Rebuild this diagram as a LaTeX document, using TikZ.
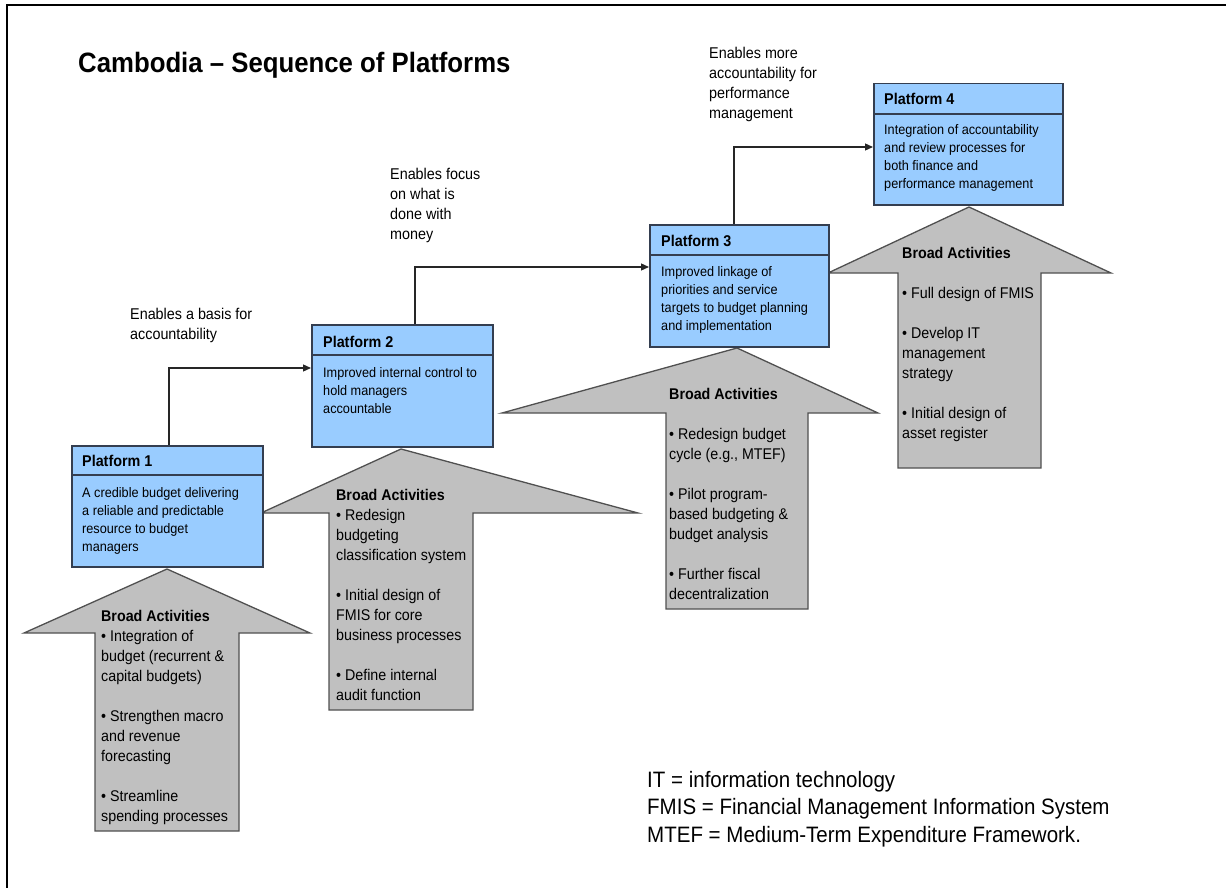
\documentclass[tikz,border=0pt]{standalone}
\usepackage{fontspec}
\setmainfont[FakeStretch=0.92]{Liberation Sans}
\usetikzlibrary{arrows.meta}

% lines of text whose baseline is the baseline of the first line
\newcommand\toplines[1]{\vtop{\let\\\cr\halign{##\hfil\cr#1\crcr}}}

\definecolor{platblue}{RGB}{153,204,255}
\definecolor{boxline}{RGB}{52,62,80}
\definecolor{actgrey}{RGB}{192,192,192}
\definecolor{actline}{RGB}{80,80,80}

\begin{document}
\begin{tikzpicture}[x=1pt,y=-1pt,
  platbox/.style={draw=boxline, line width=1.5pt, fill=platblue, anchor=north west, inner sep=0pt},
  divider/.style={draw=boxline, line width=1.5pt},
  actshape/.style={draw=actline, line width=1.3pt, fill=actgrey, line join=miter},
  conn/.style={draw=black!85, line width=1.3pt, -{Triangle[length=8pt,width=7pt]}},
  txt/.style={anchor=base west, inner sep=0pt, text=black},
  titletxt/.style={txt, font=\fontsize{28}{32}\selectfont\bfseries},
  notetxt/.style={txt, font=\fontsize{15.6}{20}\selectfont},
  headtxt/.style={txt, font=\fontsize{15.6}{18}\selectfont\bfseries},
  bodytxt/.style={txt, font=\fontsize{13.8}{18}\selectfont},
  acttxt/.style={txt, font=\fontsize{15.5}{20}\selectfont},
  legendtxt/.style={txt, font=\fontsize{22.3}{27.5}\selectfont}]
\useasboundingbox (0,0) rectangle (1226,888);

% frame
\draw[line width=2pt] (7,888) -- (7,5.5) -- (1226,5.5);

% title
\node[titletxt] (title) at (78,73) {Cambodia – Sequence of Platforms};

% broad-activity arrows
\filldraw[actshape] (167,569) -- (310,633) -- (239,633) -- (239,831) -- (95,831) -- (95,633) -- (24,633) -- cycle;
\filldraw[actshape] (401,449) -- (638,513) -- (473,513) -- (473,710) -- (329,710) -- (329,513) -- (261,513) -- cycle;
\filldraw[actshape] (737,348) -- (878,413) -- (808,413) -- (808,609) -- (666,609) -- (666,413) -- (502,413) -- cycle;
\filldraw[actshape] (969,207) -- (1111,273) -- (1041,273) -- (1041,468) -- (898,468) -- (898,273) -- (828,273) -- cycle;

% platforms
\node[platbox, minimum width=191pt, minimum height=121pt] (p1) at (71,445) {};
\node[platbox, minimum width=181pt, minimum height=122pt] (p2) at (311,324) {};
\node[platbox, minimum width=179pt, minimum height=122pt] (p3) at (649,224) {};
\node[platbox, minimum width=189pt, minimum height=121pt] (p4) at (873,83) {};
\draw[divider] ([yshift=-30pt]p1.north west) -- ([yshift=-30pt]p1.north east);
\draw[divider] ([yshift=-31pt]p2.north west) -- ([yshift=-31pt]p2.north east);
\draw[divider] ([yshift=-31pt]p3.north west) -- ([yshift=-31pt]p3.north east);
\draw[divider] ([yshift=-31pt]p4.north west) -- ([yshift=-31pt]p4.north east);

% connectors
\draw[conn] ([xshift=98pt]p1.north west) |- ([yshift=-44pt]p2.north west);
\draw[conn] ([xshift=104pt]p2.north west) |- ([yshift=-43pt]p3.north west);
\draw[conn] ([xshift=85pt]p3.north west) |- ([yshift=-64pt]p4.north west);

% connector notes
\node[notetxt] (n1) at (130,319) {\toplines{Enables a basis for\\accountability}};
\node[notetxt] (n2) at (390,179) {\toplines{Enables focus\\on what is\\done with\\money}};
\node[notetxt] (n3) at (709,59) {\toplines{Enables more\\accountability for\\performance\\management}};

% platform texts
\node[headtxt] (h1) at (82,466) {Platform 1};
\node[bodytxt] (b1) at (82,497) {\toplines{A credible budget delivering\\a reliable and predictable\\resource to budget\\managers}};
\node[headtxt] (h2) at (323,347) {Platform 2};
\node[bodytxt] (b2) at (323,377) {\toplines{Improved internal control to\\hold managers\\accountable}};
\node[headtxt] (h3) at (661,246) {Platform 3};
\node[bodytxt] (b3) at (661,276) {\toplines{Improved linkage of\\priorities and service\\targets to budget planning\\and implementation}};
\node[headtxt] (h4) at (884,105) {Platform 4};
\node[bodytxt] (b4) at (884,135) {\toplines{Integration of accountability\\and review processes for\\both finance and\\performance management}};

% activity texts
\node[acttxt] (a1) at (101,621) {\toplines{\textbf{Broad Activities}\\• Integration of\\budget (recurrent \&\\capital budgets)\\\\• Strengthen macro\\and revenue\\forecasting\\\\• Streamline\\spending processes}};
\node[acttxt] (a2) at (336,500) {\toplines{\textbf{Broad Activities}\\• Redesign\\budgeting\\classification system\\\\• Initial design of\\FMIS for core\\business processes\\\\• Define internal\\audit function}};
\node[acttxt] (a3) at (669,399) {\toplines{\textbf{Broad Activities}\\\\• Redesign budget\\cycle (e.g., MTEF)\\\\• Pilot program-\\based budgeting \&\\budget analysis\\\\• Further fiscal\\decentralization}};
\node[acttxt] (a4) at (902,258) {\toplines{\textbf{Broad Activities}\\\\• Full design of FMIS\\\\• Develop IT\\management\\strategy\\\\• Initial design of\\asset register}};

% abbreviations
\node[legendtxt] (leg) at (647,787) {\toplines{IT = information technology\\FMIS = Financial Management Information System\\MTEF = Medium-Term Expenditure Framework.}};
\end{tikzpicture}
\end{document}
